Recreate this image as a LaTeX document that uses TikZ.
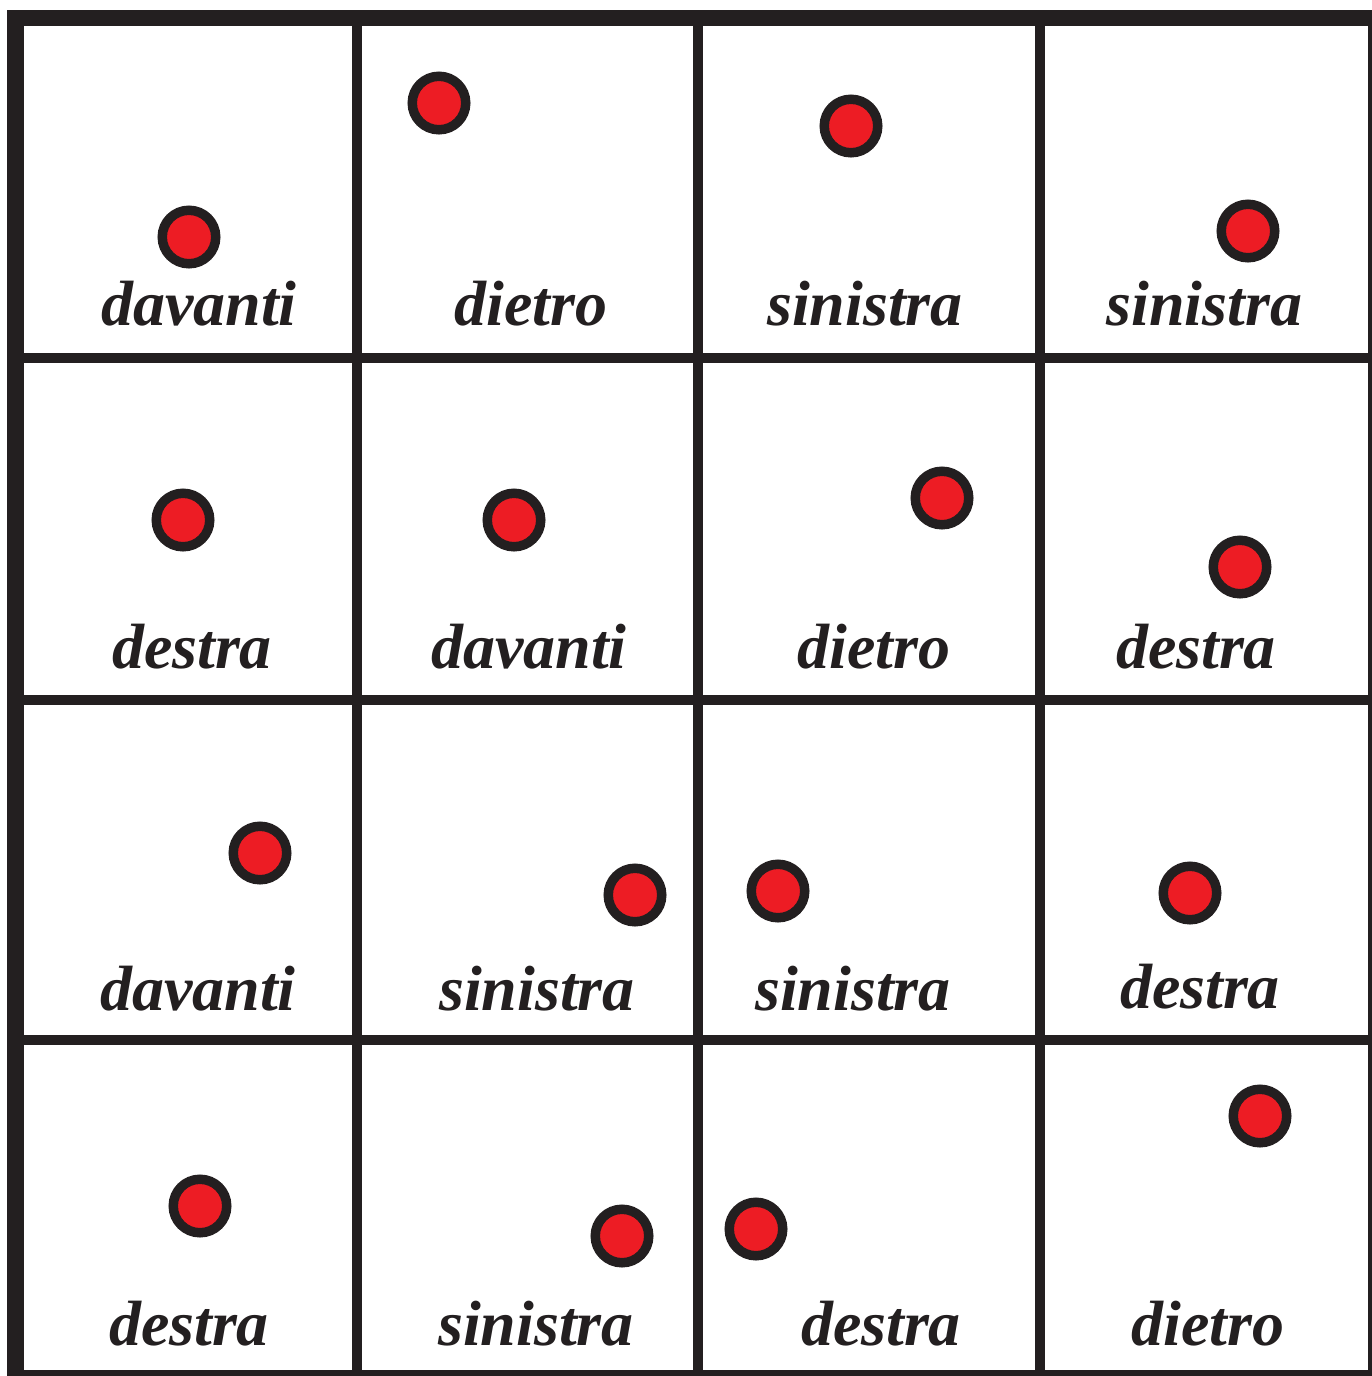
\documentclass[tikz,border=0pt]{standalone}
\usepackage{fontspec}
\setmainfont{Liberation Serif}
\definecolor{inkblack}{HTML}{231F20}
\definecolor{dotred}{HTML}{ED1C24}
\tikzset{
  dot/.style={circle, draw=inkblack, fill=dotred, line width=0.095cm, minimum size=0.535cm, inner sep=0pt},
  word/.style={anchor=base, inner sep=0pt, text=inkblack, font=\fontsize{18.2pt}{20pt}\selectfont\bfseries\itshape},
  frame/.style={draw=inkblack, line width=0.16cm},
  grid line/.style={draw=inkblack, line width=0.105cm}
}
\begin{document}
\begin{tikzpicture}[x=1cm,y=1cm]
\useasboundingbox (0,0) rectangle (13.72,-13.76);
\clip (0,0) rectangle (13.72,-13.76);
% grid
\draw[grid line] (3.57,-0.18) -- (3.57,-13.78);
\draw[grid line] (6.98,-0.18) -- (6.98,-13.78);
\draw[grid line] (10.40,-0.18) -- (10.40,-13.78);
\draw[grid line] (0.155,-3.58) -- (13.76,-3.58);
\draw[grid line] (0.155,-7.00) -- (13.76,-7.00);
\draw[grid line] (0.155,-10.40) -- (13.76,-10.40);
\draw[frame] (0.155,-0.18) rectangle (13.76,-13.78);
% row 1
\node[dot] (d11) at (1.89,-2.37) {};
\node[dot] (d12) at (4.39,-1.03) {};
\node[dot] (d13) at (8.51,-1.26) {};
\node[dot] (d14) at (12.48,-2.31) {};
\node[word] (w11) at (1.99,-3.25) {davanti};
\node[word] (w12) at (5.31,-3.25) {dietro};
\node[word] (w13) at (8.65,-3.25) {sinistra};
\node[word] (w14) at (12.045,-3.25) {sinistra};
% row 2
\node[dot] (d21) at (1.83,-5.20) {};
\node[dot] (d22) at (5.14,-5.20) {};
\node[dot] (d23) at (9.42,-4.98) {};
\node[dot] (d24) at (12.40,-5.67) {};
\node[word] (w21) at (1.92,-6.68) {destra};
\node[word] (w22) at (5.29,-6.68) {davanti};
\node[word] (w23) at (8.74,-6.68) {dietro};
\node[word] (w24) at (11.96,-6.68) {destra};
% row 3
\node[dot] (d31) at (2.60,-8.53) {};
\node[dot] (d32) at (6.35,-8.95) {};
\node[dot] (d33) at (7.78,-8.91) {};
\node[dot] (d34) at (11.90,-8.93) {};
\node[word] (w31) at (1.98,-10.10) {davanti};
\node[word] (w32) at (5.37,-10.10) {sinistra};
\node[word] (w33) at (8.53,-10.10) {sinistra};
\node[word] (w34) at (12.00,-10.08) {destra};
% row 4
\node[dot] (d41) at (2.00,-12.06) {};
\node[dot] (d42) at (6.22,-12.36) {};
\node[dot] (d43) at (7.56,-12.29) {};
\node[dot] (d44) at (12.60,-11.16) {};
\node[word] (w41) at (1.89,-13.45) {destra};
\node[word] (w42) at (5.36,-13.45) {sinistra};
\node[word] (w43) at (8.81,-13.45) {destra};
\node[word] (w44) at (12.08,-13.45) {dietro};
\end{tikzpicture}
\end{document}
